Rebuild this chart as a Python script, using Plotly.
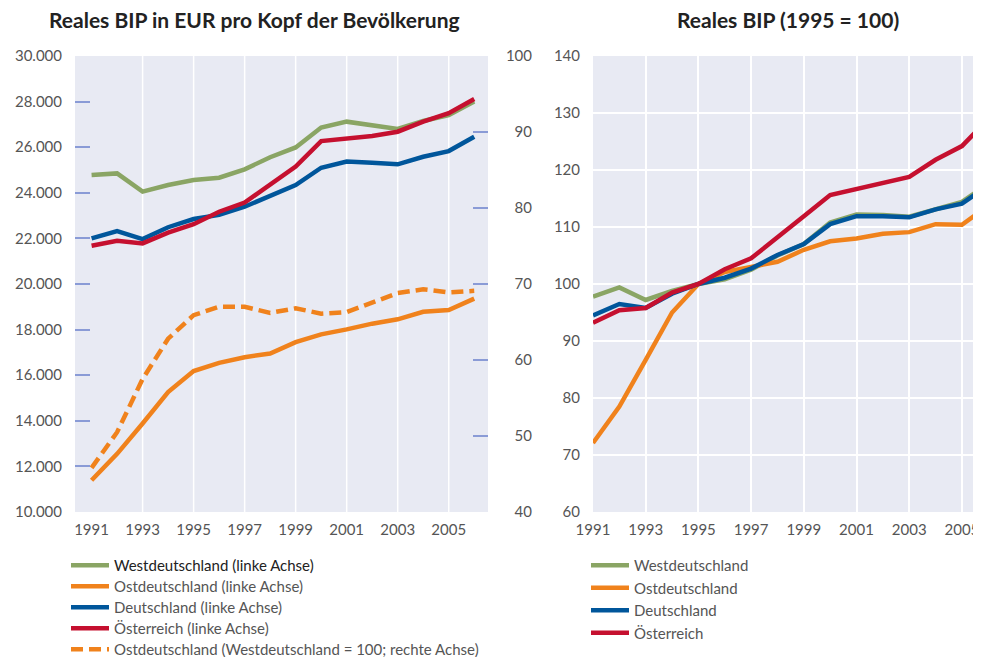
import plotly.graph_objects as go

# ---------------- data ----------------
years = list(range(1991, 2007))

# Left chart: real GDP per capita, EUR (left axis)
west_eur = [24780, 24850, 24050, 24340, 24560, 24660, 25030, 25560, 25990, 26860,
            27120, 26940, 26800, 27150, 27410, 28000]
ost_eur = [11390, 12550, 13880, 15260, 16180, 16540, 16790, 16950, 17450, 17790,
           18010, 18260, 18450, 18780, 18860, 19360]
de_eur = [22000, 22320, 21970, 22490, 22850, 23030, 23390, 23860, 24340, 25100,
          25370, 25320, 25250, 25580, 25830, 26460]
at_eur = [21680, 21900, 21780, 22250, 22620, 23170, 23570, 24390, 25150, 26270,
          26390, 26490, 26680, 27120, 27490, 28110]
# Ostdeutschland relative to Westdeutschland = 100 (right axis)
ost_rel = [45.8, 50.5, 57.5, 62.8, 65.9, 67.0, 67.0, 66.2, 66.8, 66.1,
           66.3, 67.6, 68.8, 69.3, 68.9, 69.1]

# Right chart: real GDP index, 1995 = 100
west_idx = [97.8, 99.4, 97.2, 98.8, 100.0, 100.8, 102.5, 105.0, 107.0, 110.8,
            112.2, 112.1, 111.8, 113.2, 114.4, 117.6]
ost_idx = [72.1, 78.5, 86.7, 95.0, 100.0, 102.1, 103.0, 103.9, 106.0, 107.5,
           108.0, 108.8, 109.1, 110.5, 110.4, 113.7]
de_idx = [94.5, 96.5, 95.8, 98.3, 100.0, 101.1, 102.7, 105.1, 107.0, 110.5,
          111.9, 111.9, 111.7, 113.1, 114.1, 117.3]
at_idx = [93.2, 95.4, 95.8, 98.5, 100.0, 102.6, 104.5, 108.3, 111.9, 115.6,
          116.6, 117.6, 118.8, 121.8, 124.2, 128.9]

x_ticks = [1991, 1993, 1995, 1997, 1999, 2001, 2003, 2005]
left_ticks = [10000, 12000, 14000, 16000, 18000, 20000, 22000, 24000, 26000, 28000, 30000]
right_ticks = [40, 50, 60, 70, 80, 90, 100]
idx_ticks = [60, 70, 80, 90, 100, 110, 120, 130, 140]

title_left = "Reales BIP in EUR pro Kopf der Bevölkerung"
title_right = "Reales BIP (1995 = 100)"

# ---------------- style ----------------
GREEN = "#8aa564"
ORANGE = "#f0821c"
BLUE = "#00569b"
RED = "#c5102f"
BG = "#e8eaf3"
TICKC = "#8a9bd6"
TXT = "#555555"
FONT = "Lato, 'Open Sans', sans-serif"
# page shows the figure at an 8px body offset
OFF = 8
W, H = 965, 649
LW = 4.5


def px_x(p):
    return (p - OFF) / W


def px_y(p):
    return 1 - (p - OFF) / H


ydom = [px_y(512), px_y(56)]

fig = go.Figure()

# Left chart traces, each legend entry in its own legend box (row layout)
left_series = [
    ("<span style='color:#222'>Westdeutschland (linke Achse)</span>", west_eur, GREEN, "solid", "y", "legend"),
    ("Ostdeutschland (linke Achse)", ost_eur, ORANGE, "solid", "y", "legend3"),
    ("Deutschland (linke Achse)", de_eur, BLUE, "solid", "y", "legend4"),
    ("Österreich (linke Achse)", at_eur, RED, "solid", "y", "legend5"),
    ("Ostdeutschland (Westdeutschland = 100; rechte Achse)", ost_rel, ORANGE, "12px,6px", "y2", "legend6"),
]
for name, vals, col, dash, yax, leg in left_series:
    fig.add_trace(go.Scatter(x=years, y=vals, mode="lines", name=name,
                             line=dict(color=col, width=LW, dash=dash),
                             xaxis="x", yaxis=yax, legend=leg))
# invisible helper on y3 (label-only axis)
fig.add_trace(go.Scatter(x=[years[0]], y=[right_ticks[0]], mode="markers",
                         marker=dict(opacity=0), showlegend=False, hoverinfo="skip",
                         xaxis="x", yaxis="y3"))

# Right chart traces
right_series = [
    ("Westdeutschland", west_idx, GREEN),
    ("Ostdeutschland", ost_idx, ORANGE),
    ("Deutschland", de_idx, BLUE),
    ("Österreich", at_idx, RED),
]
for name, vals, col in right_series:
    fig.add_trace(go.Scatter(x=years, y=vals, mode="lines", name=name,
                             line=dict(color=col, width=LW),
                             xaxis="x2", yaxis="y4", legend="legend2"))

# vertical white grid lines in left chart (no line at first tick)
shapes = []
for yr in x_ticks[1:]:
    shapes.append(dict(type="line", xref="x", yref="y domain", x0=yr, x1=yr, y0=0, y1=1,
                       line=dict(color="white", width=1.5), layer="below"))

tickfont = dict(family=FONT, size=15, color=TXT)
titlefont = dict(family=FONT, size=21, color="#222")
legfont = dict(family=FONT, size=15, color=TXT)


def leg_box(x_px, row_px):
    return dict(x=px_x(x_px), y=px_y(row_px - 16), xanchor="left", yanchor="top",
                bgcolor="rgba(0,0,0,0)", font=legfont, tracegroupgap=0, itemwidth=38)


left_rows = [565, 586, 607, 628, 649]

fig.update_layout(
    template="none",
    width=W, height=H,
    margin=dict(l=0, r=0, t=0, b=0, pad=0, autoexpand=False),
    paper_bgcolor="white",
    plot_bgcolor=BG,
    separators=",.",
    font=dict(family=FONT, size=15, color=TXT),
    shapes=shapes,
    xaxis=dict(domain=[px_x(75), px_x(488)], range=[1990.35, 2006.54],
               tickvals=x_ticks, showgrid=False, zeroline=False, showline=False,
               ticks="", tickfont=tickfont, anchor="y", ticklabelstandoff=7,
               automargin=False),
    yaxis=dict(domain=ydom, range=[10000, 30000], tickvals=left_ticks,
               tickformat=",d", showgrid=False, zeroline=False, showline=False,
               ticks="inside", ticklen=15, tickwidth=1.5, tickcolor=TICKC,
               tickfont=tickfont, anchor="x", ticklabelstandoff=12, automargin=False),
    yaxis2=dict(domain=ydom, range=[40, 100], tickvals=right_ticks,
                overlaying="y", side="right", anchor="x", showgrid=False, zeroline=False,
                showline=False, ticks="inside", ticklen=15, tickwidth=1.5, tickcolor=TICKC,
                showticklabels=False, automargin=False),
    yaxis3=dict(domain=ydom, range=[40, 100], tickvals=right_ticks,
                overlaying="y", side="left", anchor="free", position=px_x(534),
                showgrid=False, zeroline=False, showline=False, ticks="",
                tickfont=tickfont, ticklabelstandoff=2, automargin=False),
    xaxis2=dict(domain=[px_x(593), 1.0], range=[1991, 2005.42],
                tickvals=x_ticks, showgrid=True, gridcolor="white", gridwidth=1.5,
                zeroline=False, showline=False, ticks="", tickfont=tickfont,
                anchor="y4", ticklabelstandoff=7, automargin=False,
                ticklabeloverflow="allow"),
    yaxis4=dict(domain=ydom, range=[60, 140], tickvals=idx_ticks,
                showgrid=True, gridcolor="white", gridwidth=1.5, zeroline=False,
                showline=False, ticks="", tickfont=tickfont, anchor="x2",
                ticklabelstandoff=12, automargin=False),
    legend=leg_box(66, left_rows[0]),
    legend3=leg_box(66, left_rows[1]),
    legend4=leg_box(66, left_rows[2]),
    legend5=leg_box(66, left_rows[3]),
    legend6=leg_box(66, left_rows[4]),
    legend2=dict(x=px_x(586), y=px_y(549), xanchor="left", yanchor="top",
                 bgcolor="rgba(0,0,0,0)", font=legfont, tracegroupgap=0, itemwidth=38),
    showlegend=True,
    annotations=[
        dict(text="<b>" + title_left + "</b>", xref="paper", yref="paper",
             x=px_x(254), y=px_y(20), xanchor="center", yanchor="middle",
             showarrow=False, font=titlefont),
        dict(text="<b>" + title_right + "</b>", xref="paper", yref="paper",
             x=px_x(788), y=px_y(20), xanchor="center", yanchor="middle",
             showarrow=False, font=titlefont),
    ],
)

fig.write_html("out.html")
